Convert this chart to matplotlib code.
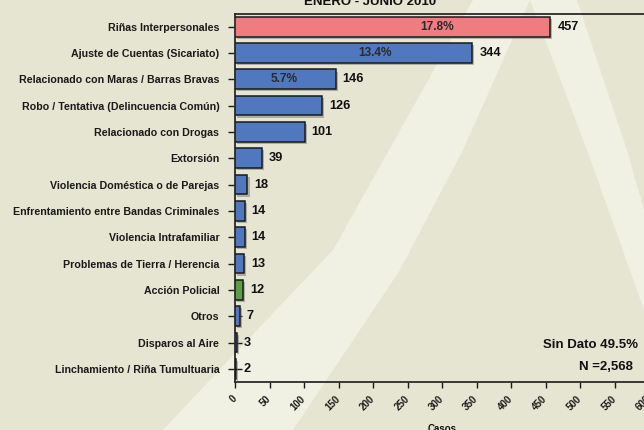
import matplotlib
matplotlib.use('Agg')
import matplotlib.pyplot as plt
from matplotlib.patches import Polygon
import matplotlib.patheffects as pe

# ---- data ----
categories = [
    "Riñas Interpersonales",
    "Ajuste de Cuentas (Sicariato)",
    "Relacionado con Maras / Barras Bravas",
    "Robo / Tentativa (Delincuencia Común)",
    "Relacionado con Drogas",
    "Extorsión",
    "Violencia Doméstica o de Parejas",
    "Enfrentamiento entre Bandas Criminales",
    "Violencia Intrafamiliar",
    "Problemas de Tierra / Herencia",
    "Acción Policial",
    "Otros",
    "Disparos al Aire",
    "Linchamiento / Riña Tumultuaria",
]
values = [457, 344, 146, 126, 101, 39, 18, 14, 14, 13, 12, 7, 3, 2]
pct_labels = ["17.8%", "13.4%", "5.7%"]
xticks = list(range(0, 601, 50))
title = "ENERO - JUNIO 2010"
xlabel = "Casos"
sin_dato = "Sin Dato 49.5%"
n_total = "N =2,568"

# ---- styles ----
PINK, BLUE, GREEN = "#F07C80", "#4F78BE", "#5C9E45"
colors = [PINK] + [BLUE] * 9 + [GREEN] + [BLUE] * 3
pct_pos_frac = [0.64, 0.59, 0.49]
BG = "#E6E5D2"
LIGHT = "#F0F0E3"
FONT = "Liberation Sans"

W, H = 644, 430
fig = plt.figure(figsize=(W / 100, H / 100), dpi=100, facecolor=BG)


def fp(x, y):
    return (x / W, 1 - y / H)


# background decoration (light "A" shape)
left_leg = [(163, 430), (238, 350), (333, 250), (361, 200), (473, 0),
            (530, 0), (463, 150), (400, 270), (293, 430)]
right_leg = [(530, 0), (577, 0), (627, 150), (644, 210), (644, 310), (587, 150)]
for poly in (left_leg, right_leg):
    fig.patches.append(Polygon([fp(x, y) for x, y in poly], closed=True,
                               transform=fig.transFigure, facecolor=LIGHT,
                               edgecolor='none', zorder=-10))

ax = fig.add_axes([235 / W, 48 / H, (649 - 235) / W, (382 - 13.5) / H])
ax.set_zorder(1)
ax.patch.set_alpha(0)

n = len(categories)
ypos = list(range(n - 1, -1, -1))
bars = ax.barh(ypos, values, height=0.75, color=colors, edgecolor='#1a1a1a',
               linewidth=1.1, zorder=3)
for b in bars:
    b.set_path_effects([pe.SimplePatchShadow(offset=(1.5, -1.5), shadow_rgbFace='#777777', alpha=0.5),
                        pe.Normal()])

ax.set_xlim(0, 600)
ax.set_ylim(-0.5, n - 0.5)
ax.set_yticks(ypos)
ax.set_yticklabels(categories, fontsize=7.7, fontweight='bold', family=FONT, color='#1a1a1a')
ax.set_xticks(xticks)
ax.set_xticklabels([str(t) for t in xticks], rotation=45, ha='right', va='center',
                   rotation_mode='anchor', fontsize=7, fontweight='bold', family=FONT)
ax.tick_params(axis='y', direction='inout', length=9.5, width=1.0, pad=6.5, colors='#1a1a1a')
ax.tick_params(axis='x', direction='out', length=4.5, width=1.0, pad=6.5, colors='#1a1a1a')

for s in ax.spines.values():
    s.set_linewidth(1.3)
    s.set_color('#2a2a2a')

for yv, v in zip(ypos, values):
    ax.annotate(str(v), (v, yv), xytext=(5, 0), textcoords='offset points',
                ha='left', va='center', fontsize=9.2, fontweight='bold',
                family=FONT, color='#111111', zorder=5)

for i, lab in enumerate(pct_labels):
    ax.text(values[i] * pct_pos_frac[i], ypos[i], lab, ha='center', va='center',
            fontsize=8.6, fontweight='bold', family=FONT, color='#2a2a2a', zorder=5)

fig.text(*fp(370, 5), title, ha='center', va='baseline', fontsize=9.5,
         fontweight='bold', family=FONT, color='#111111')
fig.text(*fp(442, 424), xlabel, ha='center', va='top', fontsize=7,
         fontweight='bold', family=FONT, color='#111111')
fig.text(*fp(638, 345), sin_dato, ha='right', va='center', fontsize=9.5,
         fontweight='bold', family=FONT, color='#111111')
fig.text(*fp(633, 367), n_total, ha='right', va='center', fontsize=9.5,
         fontweight='bold', family=FONT, color='#111111')

fig.savefig('out.png', dpi=100, facecolor=BG)
